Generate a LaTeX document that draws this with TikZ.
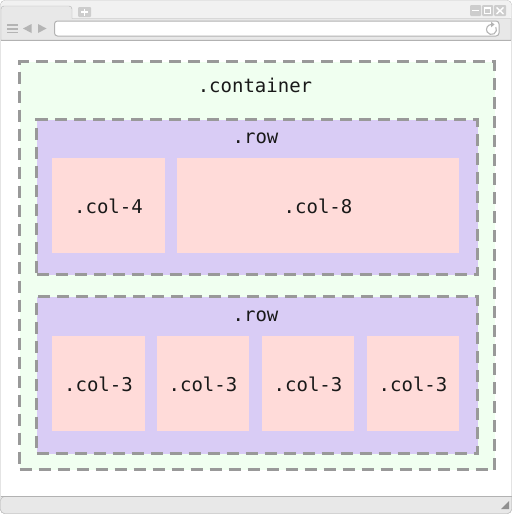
\documentclass[tikz,border=0pt]{standalone}
\usepackage{fontspec}
\setmonofont{DejaVu Sans Mono}
\definecolor{chromebg}{HTML}{E8E8E8}
\definecolor{chromeline}{HTML}{B2B2B2}
\definecolor{iconc}{HTML}{B4B4B4}
\definecolor{ctrlc}{HTML}{CDCDCD}
\definecolor{contfill}{HTML}{F0FFF0}
\definecolor{rowfill}{HTML}{D9CCF5}
\definecolor{colfill}{HTML}{FFDBD9}
\definecolor{dashc}{HTML}{999999}
\begin{document}
\begin{tikzpicture}[x=1pt,y=-1pt,
  dbox/.style={draw=dashc, line width=3pt, dash pattern=on 12pt off 7pt},
  lbl/.style={anchor=base, inner sep=0pt, font=\ttfamily\fontsize{19}{19}\selectfont, text=black!90},
  icon/.style={fill=iconc, draw=none},
  ctrl/.style={fill=ctrlc, draw=none, rounded corners=1pt}
]
\useasboundingbox (0,0) rectangle (512,514);
% window
\draw[chromeline, fill=white, rounded corners=4pt] (0.5,0.5) rectangle (511.5,513.5);
% top strip
\fill[chromebg!60!white, rounded corners=4pt] (1,1) rectangle (511,20);
% tab + toolbar
\filldraw[fill=chromebg, draw=chromeline] (1,40) -- (1,9) [rounded corners=3pt] -- (1,6) -- (72,6) [sharp corners] -- (72,18.5) -- (511,18.5) -- (511,40) -- cycle;
\draw[chromeline] (1,40.5) -- (511,40.5);
% plus button
\fill[ctrl] (78,7) rectangle (91,17);
\draw[white, line width=1.6pt] (84.5,8.5) -- (84.5,15.5) (81,12) -- (88,12);
% window controls
\fill[ctrl] (470,5) rectangle (481,16);
\fill[ctrl] (482,5) rectangle (493,16);
\fill[ctrl] (494,5) rectangle (506,16);
\draw[white, line width=1.5pt] (472,10.5) -- (479,10.5);
\draw[white, line width=1.2pt] (484.5,8) rectangle (490.5,13.5);
\draw[white, line width=1.4pt] (496.5,7.5) -- (503.5,14) (503.5,7.5) -- (496.5,14);
% menu icon
\draw[iconc, line width=1.6pt] (7,25) -- (18,25) (7,28.7) -- (18,28.7) (7,32.4) -- (18,32.4);
% back / forward
\fill[icon] (23,28.5) -- (31.5,24) -- (31.5,33) -- cycle;
\fill[icon] (46.5,28.5) -- (38,24) -- (38,33) -- cycle;
% address bar
\draw[chromeline, fill=white, rounded corners=3pt, line width=1pt] (54.5,21) rectangle (499,36);
% refresh icon
\coordinate (rc) at (491.5,29.5);
\draw[iconc, line width=1.1pt] ([shift={(4.33,-2.5)}]rc) arc[start angle=-30, end angle=265, radius=5];
\fill[iconc] ([shift={(3,-5)}]rc) -- ([shift={(-0.5,-7.8)}]rc) -- ([shift={(-0.5,-2.2)}]rc) -- cycle;
% bottom status bar
\filldraw[fill=chromebg, draw=chromeline, rounded corners=4pt] (0.5,513.5) -- (0.5,496.5) [sharp corners] -- (511.5,496.5) [rounded corners=4pt] -- (511.5,513.5) -- cycle;
\draw[chromeline] (0.5,496.5) -- (511.5,496.5);
\fill[iconc!80!black] (509,501) -- (509,509) -- (501,509) -- cycle;

% container
\node[dbox, fill=contfill, anchor=north west, minimum width=475pt, minimum height=408pt, inner sep=0pt] (container) at (18,60) {};
\node[lbl] (containerlbl) at (255,92) {.container};
% row 1
\node[dbox, fill=rowfill, anchor=north west, minimum width=441pt, minimum height=155pt, inner sep=0pt] (row1) at (35,118) {};
\node[lbl] (row1lbl) at (255.5,143) {.row};
\fill[colfill] (52,158) rectangle (165,253);
\node[lbl] (col4) at (108.5,213) {.col-4};
\fill[colfill] (177,158) rectangle (459,253);
\node[lbl] (col8) at (318,213) {.col-8};
% row 2
\node[dbox, fill=rowfill, anchor=north west, minimum width=441pt, minimum height=157pt, inner sep=0pt] (row2) at (35,295) {};
\node[lbl] (row2lbl) at (255.5,321) {.row};
\fill[colfill] (52,336) rectangle (145,431);
\fill[colfill] (157,336) rectangle (249,431);
\fill[colfill] (262,336) rectangle (354,431);
\fill[colfill] (367,336) rectangle (459,431);
\node[lbl] (c31) at (98.5,391) {.col-3};
\node[lbl] (c32) at (203,391) {.col-3};
\node[lbl] (c33) at (308,391) {.col-3};
\node[lbl] (c34) at (413,391) {.col-3};
\end{tikzpicture}
\end{document}
